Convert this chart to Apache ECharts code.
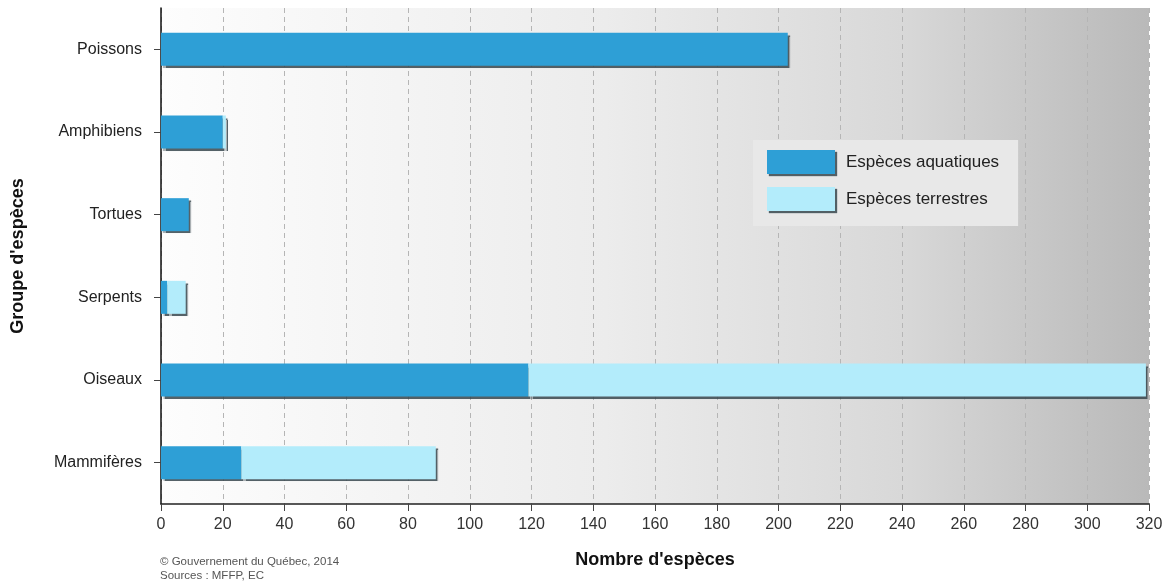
<!DOCTYPE html>
<html>
<head>
<meta charset="utf-8">
<script src="https://cdn.jsdelivr.net/npm/echarts@6/dist/echarts.min.js"></script>
<style>
  html, body { margin: 0; padding: 0; background: #ffffff; }
  #chart { width: 1172px; height: 582px; }
</style>
</head>
<body>
<div id="chart"></div>
<script>
// Groupes d'espèces (du haut vers le bas)
const categories = ['Poissons', 'Amphibiens', 'Tortues', 'Serpents', 'Oiseaux', 'Mammifères'];
// Nombre d'espèces aquatiques par groupe
const aquatiques = [203, 20, 9, 2, 119, 26];
// Nombre d'espèces terrestres par groupe
const terrestres = [0, 1, 0, 6, 200, 63];
// Graduations de l'axe horizontal
const xTicks = [0, 20, 40, 60, 80, 100, 120, 140, 160, 180, 200, 220, 240, 260, 280, 300, 320];

const FONT = '"Liberation Sans", Arial, sans-serif';
const chart = echarts.init(document.getElementById('chart'), null, { renderer: 'canvas' });

const barShadow = {
  shadowColor: 'rgba(55, 70, 78, 0.85)',
  shadowOffsetX: 2,
  shadowOffsetY: 2,
  shadowBlur: 1
};

chart.setOption({
  animation: false,
  textStyle: { fontFamily: FONT },
  grid: {
    left: 161, right: 23, top: 8, bottom: 78,
    containLabel: false,
    outerBoundsMode: 'none',
    show: true,
    borderWidth: 0,
    backgroundColor: new echarts.graphic.LinearGradient(0, 0, 1, 0, [
      { offset: 0, color: '#fdfdfd' },
      { offset: 0.45, color: '#ececec' },
      { offset: 0.75, color: '#d8d8d8' },
      { offset: 1, color: '#b9b9b9' }
    ])
  },
  legend: {
    orient: 'vertical',
    left: 753, top: 140,
    padding: [10, 19, 15, 14],
    backgroundColor: '#e8e8e8',
    itemWidth: 68, itemHeight: 24, itemGap: 13,
    icon: 'rect',
    itemStyle: barShadow,
    textStyle: { fontSize: 17, color: '#222', padding: [0, 0, 0, 6], fontFamily: FONT },
    data: ['Espèces aquatiques', 'Espèces terrestres']
  },
  xAxis: {
    type: 'value',
    min: xTicks[0],
    max: xTicks[xTicks.length - 1],
    interval: xTicks[1] - xTicks[0],
    name: "Nombre d'espèces",
    nameLocation: 'middle',
    nameGap: 47,
    nameTextStyle: { fontSize: 18, fontWeight: 'bold', color: '#111', fontFamily: FONT },
    axisLine: { show: true, lineStyle: { color: '#222', width: 1.5 } },
    axisTick: { show: true, length: 7, lineStyle: { color: '#444' } },
    axisLabel: { fontSize: 16, color: '#333', margin: 13, fontFamily: FONT },
    splitLine: { show: true, lineStyle: { color: '#b5b5b5', type: [5, 4], width: 1 } }
  },
  yAxis: {
    type: 'category',
    data: categories,
    inverse: true,
    name: "Groupe d'espèces",
    nameLocation: 'middle',
    nameRotate: 90,
    nameGap: 134,
    nameTextStyle: { fontSize: 18, fontWeight: 'bold', color: '#111', fontFamily: FONT },
    axisLine: { show: true, lineStyle: { color: '#111', width: 1.5 } },
    axisTick: { show: true, alignWithLabel: true, length: 7, inside: false, lineStyle: { color: '#444' } },
    axisLabel: { fontSize: 16, color: '#222', margin: 19, fontFamily: FONT },
    splitLine: { show: false }
  },
  series: [
    {
      name: 'Espèces aquatiques',
      type: 'bar',
      stack: 'total',
      barWidth: 33,
      data: aquatiques,
      itemStyle: Object.assign({ color: '#2e9fd6' }, barShadow)
    },
    {
      name: 'Espèces terrestres',
      type: 'bar',
      stack: 'total',
      barWidth: 33,
      data: terrestres,
      itemStyle: Object.assign({ color: '#b3ecfb' }, barShadow)
    }
  ],
  graphic: [
    {
      type: 'text', left: 160, top: 556,
      style: { text: '© Gouvernement du Québec, 2014', fontSize: 11.5, fill: '#555', fontFamily: FONT }
    },
    {
      type: 'text', left: 160, top: 570,
      style: { text: 'Sources : MFFP, EC', fontSize: 11.5, fill: '#555', fontFamily: FONT }
    }
  ]
});
</script>
</body>
</html>
